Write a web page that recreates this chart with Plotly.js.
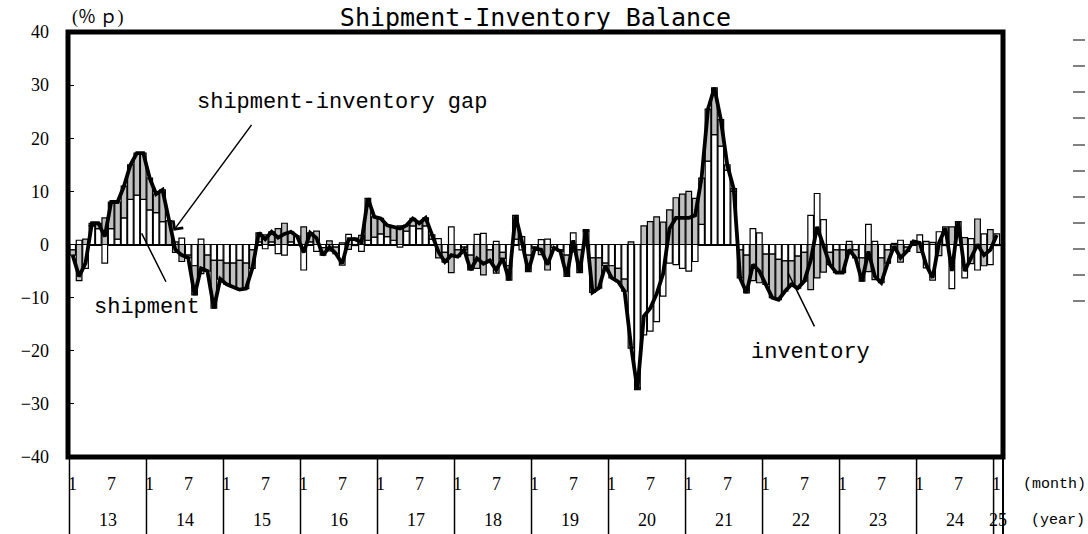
<!DOCTYPE html>
<html><head><meta charset="utf-8">
<script src="https://cdn.plot.ly/plotly-3.0.1.min.js"></script>
<style>html,body{margin:0;padding:0;background:#fff}#chart{width:1088px;height:534px}</style>
</head><body><div id="chart"></div>
<script>
// Year labels (2013 .. 2025), month tick labels shown in each year
const years = ['13','14','15','16','17','18','19','20','21','22','23','24','25'];
const monthTicks = ['1','7'];
const monthTickIndex = [0, 6];
const yTicks = [-40,-30,-20,-10,0,10,20,30,40];
// short tick marks of the (unlabelled) right-hand scale, in pixels from the top
const rightMarkRows = [40, 66, 92, 118, 145, 171, 197, 223, 249, 275, 301];

// Shipment (y/y %, white bars), Jan 2013 .. Jan 2025
const shipment = [
  -1, 0.8, -4.5, 3.5, 3, -3.5, 3, 1, 5, 8.5, 9.3, 8.5,
  6.5, 6, 4.3, 0, -1.5, 1.2, -2, -4, 1, -2, -3, -3,
  -3.5, -3.5, -3, -3.5, -1, 0.5, -0.8, 0.5, -1.7, -2, 0.5, 1.6,
  -4.8, 0.5, -1.3, -0.6, -1.2, -0.5, -3.9, 1.9, 1.2, -1.3, 0.8, 1.4,
  2, 1.5, 0.8, -0.5, 2.5, 3.5, 3, 3.5, 1, 1.1, -1.5, 3.3,
  -1, -0.5, -2, 1.9, 2.1, -1, 0.6, -1.5, -4, 1, -1, -2,
  -0.5, 0.9, 1, -0.6, -1, -2, 2.2, -1, 2.5, -2.5, -2.5, -3.5,
  -4, -4.5, -6.5, -19.5, -27, -17, -16.3, -14.5, -9.7, -3.5, -3.8, -4.5,
  -5, -3.2, 3.8, 15.7, 20.7, 18.5, 14, 10, -1, -2, 3, 2.2,
  -1.8, -1.8, -2.8, -3.1, -3.1, -2.2, -1.5, 5.5, 9.6, 4.7, -1.5, -1,
  -1, 0.6, -1, -2.5, 3.8, 0.6, -2.5, -1, -0.5, 0.8, -0.5, 0.3,
  1.8, -4.4, -6.7, 2.4, 3.3, -8.3, 4.3, -6.3, 1.1, -4.8, 2, -3.8,
  2
];
// Shipment-inventory gap (%p, black line), Jan 2013 .. Jan 2025
const gap = [
  -2, -6, -3.5, 4, 4, 1.5, 8, 8, 11, 15, 17.2, 17.2,
  12.5, 9.5, 10.3, 4.5, -1, -2, -2.5, -9.5, -4.5, -5, -12, -6.5,
  -7.5, -8, -8.5, -8.3, -4.5, 2.2, 1, 2.4, 1.3, 2, 2.4, 1.5,
  -1.5, 2.2, 1.2, -2, -0.5, -1.7, -3.6, 1, 1, 0.4, 8.7, 5.2,
  4.9, 3.6, 3.3, 3, 3.6, 4.9, 4, 5, 1.8, -1.4, -3.3, -2,
  -2.3, -1, -4.8, -2.6, -3.6, -3, -4.8, -2.6, -6.7, 5.5, 0.5, -5.1,
  -0.8, -1, -3.8, -0.6, -1.3, -6, 0.8, -5.3, 2.8, -9, -8.2, -4,
  -6.3, -7, -8.8, -19, -27.3, -13.5, -12, -9.3, -5.5, 3, 5, 5,
  5, 5.5, 12.5, 25.5, 29.5, 23.5, 15, 10.5, -6.3, -9.1, -3.8, -5,
  -7.5, -10, -10.4, -8.8, -7.5, -8.2, -6.9, -3, 3.3, -0.5, -3.8, -5.3,
  -5.3, -1, -2.5, -6.9, -1.3, -6, -7.2, -3.5, -0.3, -2.5, -1.3, 0.6,
  0.3, -3.8, -6.3, 0.3, 3.1, -5, 4.3, -5, -2.5, 0, -2, -1,
  1.8
];

// inventory contribution (stacked gray bars) = gap - shipment
const inventory = gap.map((g, i) => +(g - shipment[i]).toFixed(2));
const idx = shipment.map((_, i) => i);
const xRange = [-0.73, 144.97];

const serif = 'Liberation Serif, Noto Sans CJK JP, serif';
const mono = 'Liberation Mono, monospace';
const PLOT_L = 68, PLOT_W = 935, PLOT_B = 457, H_PLOT = 425, B_MARGIN = 77;
const rowMonth = -27 / H_PLOT, rowYear = -63 / H_PLOT, bottom = -B_MARGIN / H_PLOT;

const annotations = [];
const shapes = [];
years.forEach((yr, k) => {
  const start = 12 * k;
  monthTickIndex.forEach((m, j) => {
    if (start + m < idx.length) {
      annotations.push({x: start + m, y: rowMonth, xref: 'x', yref: 'paper', text: monthTicks[j],
        showarrow: false, font: {family: serif, size: 18, color: '#000'}, yanchor: 'middle'});
    }
  });
  const end = Math.min(start + 11.5, xRange[1]);
  annotations.push({x: (start - 0.5 + end) / 2, y: rowYear, xref: 'x', yref: 'paper', text: yr,
    showarrow: false, font: {family: serif, size: 18, color: '#000'}, yanchor: 'middle'});
  shapes.push({type: 'line', xref: 'x', yref: 'paper', x0: start - 0.5, x1: start - 0.5, y0: 0, y1: bottom,
    line: {color: '#000', width: 1.5}});
});
shapes.push({type: 'line', xref: 'paper', yref: 'paper', x0: 1, x1: 1, y0: 0, y1: bottom, line: {color: '#000', width: 2}});
shapes.push({type: 'rect', xref: 'paper', yref: 'paper', x0: 0, x1: 1, y0: 0, y1: 1, line: {color: '#000', width: 5}});
rightMarkRows.forEach(py => {
  const yp = (PLOT_B - py) / H_PLOT;
  shapes.push({type: 'line', xref: 'paper', yref: 'paper', x0: (1073 - PLOT_L) / PLOT_W, x1: (1085 - PLOT_L) / PLOT_W,
    y0: yp, y1: yp, line: {color: '#000', width: 1}});
});

annotations.push(
  {xref: 'paper', yref: 'paper', x: (1021 - PLOT_L) / PLOT_W, y: rowMonth, xanchor: 'left', yanchor: 'middle', text: '(month)',
   showarrow: false, font: {family: mono, size: 15, color: '#000'}},
  {xref: 'paper', yref: 'paper', x: (1029 - PLOT_L) / PLOT_W, y: rowYear, xanchor: 'left', yanchor: 'middle', text: '(year)',
   showarrow: false, font: {family: mono, size: 15, color: '#000'}},
  {xref: 'paper', yref: 'paper', x: 0.002, y: 1.035, xanchor: 'left', yanchor: 'middle', text: '(％\u2009ｐ)',
   showarrow: false, font: {family: serif, size: 18, color: '#000'}},
  // labels
  {xref: 'x', yref: 'y', x: 42, y: 26.8, text: 'shipment-inventory gap', showarrow: false,
   font: {family: mono, size: 22, color: '#000'}},
  {xref: 'x', yref: 'y', x: 11.6, y: -11.8, text: 'shipment', showarrow: false,
   font: {family: mono, size: 22, color: '#000'}},
  {xref: 'x', yref: 'y', x: 114.9, y: -20.4, text: 'inventory', showarrow: false,
   font: {family: mono, size: 22, color: '#000'}},
  // arrows
  {xref: 'x', yref: 'y', axref: 'x', ayref: 'y', x: 15.7, y: 2.6, ax: 28.05, ay: 22.8, text: '',
   showarrow: true, arrowhead: 4, arrowsize: 1.6, arrowwidth: 1.5, arrowcolor: '#000', standoff: 0, startstandoff: 0},
  {xref: 'x', yref: 'y', axref: 'x', ayref: 'y', x: 10.75, y: 2.1, ax: 14.65, ay: -7.3, text: '',
   showarrow: true, arrowhead: 0, arrowwidth: 1.5, arrowcolor: '#000', standoff: 0},
  {xref: 'x', yref: 'y', axref: 'x', ayref: 'y', x: 111.5, y: -5.4, ax: 115.7, ay: -15.7, text: '',
   showarrow: true, arrowhead: 0, arrowwidth: 1.5, arrowcolor: '#000', standoff: 0}
);

const traces = [
  {type: 'bar', x: idx, y: shipment, name: 'shipment', width: 0.88,
   marker: {color: '#ffffff', line: {color: '#000', width: 1.2}}, hoverinfo: 'skip'},
  {type: 'bar', x: idx, y: inventory, name: 'inventory', width: 0.88,
   marker: {color: '#c0c0c0', line: {color: '#000', width: 1.2}}, hoverinfo: 'skip'},
  {type: 'scatter', mode: 'lines', x: idx, y: gap, name: 'shipment-inventory gap',
   line: {color: '#000', width: 3.8}, hoverinfo: 'skip'}
];

const layout = {
  width: 1088, height: 534,
  margin: {l: 68, r: 85, t: 32, b: 77, pad: 0},
  paper_bgcolor: '#fff', plot_bgcolor: '#fff',
  showlegend: false, barmode: 'relative', bargap: 0,
  title: {text: 'Shipment-Inventory Balance', x: 0.5, xref: 'paper', y: 0.968, yref: 'container',
          xanchor: 'center', yanchor: 'middle',
          font: {family: 'DejaVu Sans Mono, monospace', size: 25, color: '#000'}},
  xaxis: {range: xRange, showticklabels: false, ticks: '', showgrid: false, zeroline: false, showline: false, fixedrange: true},
  yaxis: {range: [-40, 40], tickvals: yTicks, ticks: 'inside', ticklen: 6, tickwidth: 1, tickcolor: '#000',
          showgrid: false, zeroline: true, zerolinecolor: '#000', zerolinewidth: 2, showline: false,
          ticklabelstandoff: 18, tickfont: {family: serif, size: 18, color: '#000'}, fixedrange: true},
  shapes: shapes,
  annotations: annotations
};

Plotly.newPlot('chart', traces, layout, {displayModeBar: false, staticPlot: true});
</script>
</body></html>
